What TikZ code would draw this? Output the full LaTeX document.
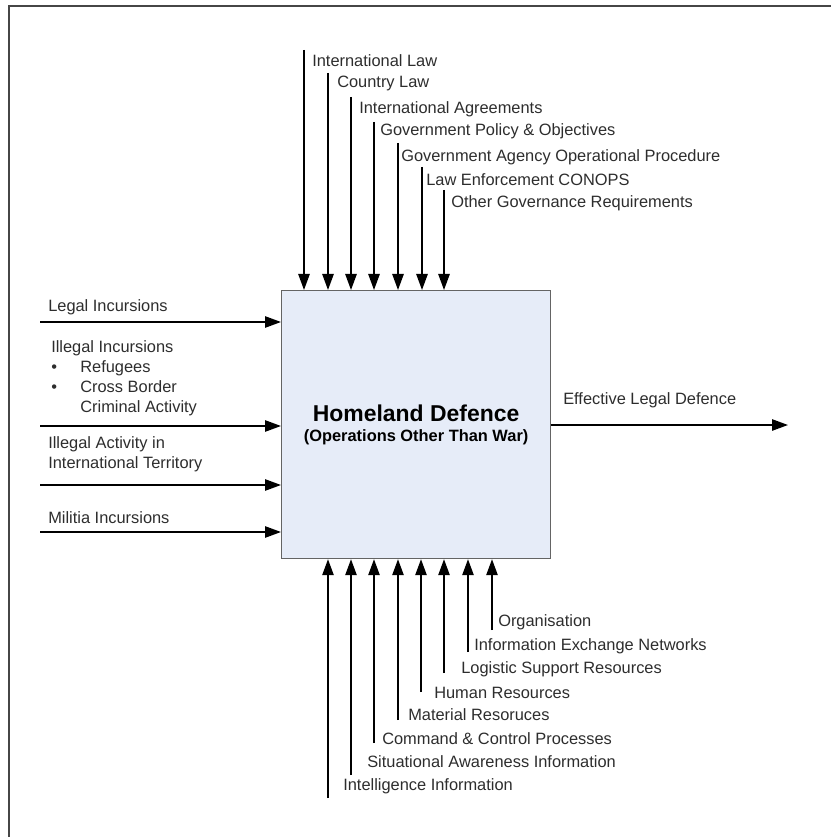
\documentclass[tikz,border=0pt]{standalone}
\usepackage{fontspec}
\setmainfont{Liberation Sans}
\usepackage{xcolor}
\usetikzlibrary{arrows.meta}
\definecolor{boxfill}{RGB}{230, 236, 248}
\definecolor{boxline}{RGB}{100, 100, 100}
\definecolor{framegray}{RGB}{70, 70, 70}
\definecolor{txt}{RGB}{45, 45, 45}
\tikzset{
  flow/.style={line width=1.2pt, -{Triangle[length=12pt,width=8.5pt]}},
  lbl/.style={anchor=west, inner sep=0.75pt, text=txt, align=left, font=\fontsize{12.3}{15}\selectfont},
}

\begin{document}
\begin{tikzpicture}[x=0.75pt,y=0.75pt,yscale=-1,xscale=1]
\useasboundingbox (0,0) rectangle (831,837);

%Frame (only top and left show)
\draw [color=framegray, line width=1.5pt] (9,837) -- (9,6) -- (831,6) ;

%Process box
\node [draw=boxline, fill=boxfill, line width=0.9pt, anchor=north west, inner sep=0pt,
  minimum width=201.75pt, minimum height=201pt, align=center, text=black] (hd) at (281,290)
  {{\fontsize{17.2}{20}\selectfont\bfseries Homeland Defence}\\[3pt]
   {\fontsize{12.3}{14}\selectfont\bfseries (Operations Other Than War)}};

%Controls (top)
\coordinate (cIntLaw) at (304,50) ;
\coordinate (cCtyLaw) at (328,73) ;
\coordinate (cIntAgr) at (351,97) ;
\coordinate (cGovPol) at (374,122) ;
\coordinate (cGovAgy) at (398,143) ;
\coordinate (cLawEnf) at (422,167) ;
\coordinate (cOthGov) at (444,190) ;
\draw [flow] (cIntLaw) -- (cIntLaw |- hd.north) ;
\draw [flow] (cCtyLaw) -- (cCtyLaw |- hd.north) ;
\draw [flow] (cIntAgr) -- (cIntAgr |- hd.north) ;
\draw [flow] (cGovPol) -- (cGovPol |- hd.north) ;
\draw [flow] (cGovAgy) -- (cGovAgy |- hd.north) ;
\draw [flow] (cLawEnf) -- (cLawEnf |- hd.north) ;
\draw [flow] (cOthGov) -- (cOthGov |- hd.north) ;

%Inputs (left)
\coordinate (iLegal) at (40,322) ;
\coordinate (iIllegal) at (40,426) ;
\coordinate (iIntTer) at (40,485) ;
\coordinate (iMilitia) at (40,532) ;
\draw [flow] (iLegal) -- (iLegal -| hd.west) ;
\draw [flow] (iIllegal) -- (iIllegal -| hd.west) ;
\draw [flow] (iIntTer) -- (iIntTer -| hd.west) ;
\draw [flow] (iMilitia) -- (iMilitia -| hd.west) ;

%Output (right)
\coordinate (oDef) at (788,425) ;
\draw [flow] (hd.east |- oDef) -- (oDef) ;

%Mechanisms (bottom)
\coordinate (mIntel) at (328,798) ;
\coordinate (mSitAw) at (351,775) ;
\coordinate (mCmdCt) at (374,743) ;
\coordinate (mMater) at (398,720) ;
\coordinate (mHuman) at (421,692) ;
\coordinate (mLogis) at (444,673) ;
\coordinate (mInfEx) at (468,652) ;
\coordinate (mOrgan) at (492,630) ;
\draw [flow] (mIntel) -- (mIntel |- hd.south) ;
\draw [flow] (mSitAw) -- (mSitAw |- hd.south) ;
\draw [flow] (mCmdCt) -- (mCmdCt |- hd.south) ;
\draw [flow] (mMater) -- (mMater |- hd.south) ;
\draw [flow] (mHuman) -- (mHuman |- hd.south) ;
\draw [flow] (mLogis) -- (mLogis |- hd.south) ;
\draw [flow] (mInfEx) -- (mInfEx |- hd.south) ;
\draw [flow] (mOrgan) -- (mOrgan |- hd.south) ;

% Text Node
\node [lbl] (tIntLaw) at (311,61) {International Law};
\node [lbl] (tCtyLaw) at (336,83) {Country Law};
\node [lbl] (tIntAgr) at (358,109) {International Agreements};
\node [lbl] (tGovPol) at (379,131) {Government Policy \& Objectives};
\node [lbl] (tGovAgy) at (400,157) {Government Agency Operational Procedure};
\node [lbl] (tLawEnf) at (425,180) {Law Enforcement CONOPS};
\node [lbl] (tOthGov) at (450,203) {Other Governance Requirements};
% Text Node
\node [lbl] (tLegal) at (47,307) {Legal Incursions};
\node [lbl] (tIllegal) at (50,378) {Illegal Incursions\\
  \textbullet\hspace{17.5pt}Refugees\\
  \textbullet\hspace{17.5pt}Cross Border\\
  \hspace*{21.8pt}Criminal Activity};
\node [lbl] (tIntTer) at (47,454) {Illegal Activity in\\International Territory};
\node [lbl] (tMilitia) at (47,518) {Militia Incursions};
% Text Node
\node [lbl] (tDef) at (562,400) {Effective Legal Defence};
% Text Node
\node [lbl] (tOrgan) at (497,622) {Organisation};
\node [lbl] (tInfEx) at (473,646) {Information Exchange Networks};
\node [lbl] (tLogis) at (460,669) {Logistic Support Resources};
\node [lbl] (tHuman) at (433,693) {Human Resources};
\node [lbl] (tMater) at (407,715) {Material Resoruces};
\node [lbl] (tCmdCt) at (381,739) {Command \& Control Processes};
\node [lbl] (tSitAw) at (366,762) {Situational Awareness Information};
\node [lbl] (tIntel) at (342,786) {Intelligence Information};

\end{tikzpicture}
\end{document}
